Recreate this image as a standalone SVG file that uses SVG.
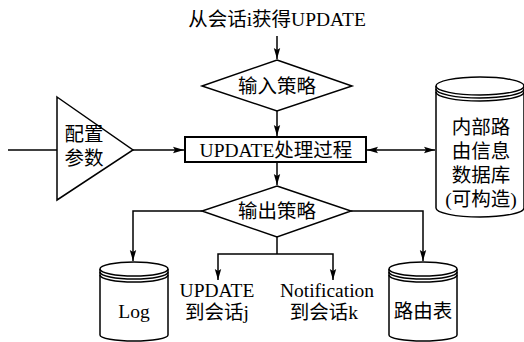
<svg xmlns="http://www.w3.org/2000/svg" width="524" height="342" viewBox="0 0 524 342">
<defs>
<marker id="ah" markerWidth="12" markerHeight="8" refX="11" refY="4" orient="auto-start-reverse" markerUnits="userSpaceOnUse">
<path d="M0,0.8 L11,4 L0,7.2 L2,4 Z" fill="#000"/>
</marker>
</defs>
<style>
.s{fill:#fff;stroke:#000;stroke-width:1.5}
.l{fill:none;stroke:#000;stroke-width:1.5}
.t{font-family:"Liberation Serif","Noto Sans CJK SC",serif;font-size:19.5px;fill:#000;text-anchor:middle}
</style>
<rect width="524" height="342" fill="#fff"/>
<g id="connectors">
<line class="l" x1="277" y1="36" x2="277" y2="59" marker-end="url(#ah)"/>
<line class="l" x1="277" y1="111" x2="277" y2="136" marker-end="url(#ah)"/>
<line class="l" x1="8" y1="150" x2="57" y2="150"/>
<line class="l" x1="133" y1="150" x2="184" y2="150" marker-end="url(#ah)"/>
<line class="l" x1="367" y1="150" x2="435" y2="150" marker-start="url(#ah)" marker-end="url(#ah)"/>
<line class="l" x1="277" y1="162" x2="277" y2="185" marker-end="url(#ah)"/>
<polyline class="l" points="202,211 133,211 133,261" marker-end="url(#ah)"/>
<polyline class="l" points="351,211 423,211 423,261" marker-end="url(#ah)"/>
<line class="l" x1="277" y1="237" x2="277" y2="254"/>
<polyline class="l" points="218,280 218,254 333,254 333,280" marker-start="url(#ah)" marker-end="url(#ah)"/>
</g>
<g id="source">
<text class="t" x="277" y="26">从会话i获得UPDATE</text>
</g>
<g id="input-policy">
<polygon class="s" points="277,60 352,86 277,111 202,86"/>
<text class="t" x="277" y="93">输入策略</text>
</g>
<g id="config">
<polygon class="s" points="57,97 133,150 57,200"/>
<text class="t" x="84" y="141">配置</text>
<text class="t" x="84" y="165">参数</text>
</g>
<g id="process">
<rect x="185" y="137" width="181" height="25" fill="#fff" stroke="#000" stroke-width="2"/>
<text class="t" x="276" y="157">UPDATE处理过程</text>
</g>
<g id="rib">
<path class="s" d="M436,86 L436,208 A44,9 0 0 0 524,208 L524,86"/>
<ellipse class="s" cx="480" cy="86" rx="44" ry="9"/>
<path class="l" d="M436,89 A44,9 0 0 0 524,89 M436,92 A44,9 0 0 0 524,92"/>
<text class="t" x="481" y="134">内部路</text>
<text class="t" x="481" y="158">由信息</text>
<text class="t" x="481" y="182">数据库</text>
<text class="t" x="481" y="206">(可构造)</text>
</g>
<g id="output-policy">
<polygon class="s" points="277,186 351,211 277,237 202,211"/>
<text class="t" x="277" y="218">输出策略</text>
</g>
<g id="log">
<path class="s" d="M100,269 L100,335 A34,6 0 0 0 168,335 L168,269"/>
<ellipse class="s" cx="134" cy="269" rx="34" ry="7"/>
<path class="l" d="M100,272 A34,7 0 0 0 168,272 M100,275 A34,7 0 0 0 168,275"/>
<text class="t" x="134" y="318">Log</text>
</g>
<g id="update-j">
<text class="t" x="217" y="297">UPDATE</text>
<text class="t" x="217" y="319">到会话j</text>
</g>
<g id="notification-k">
<text class="t" x="327" y="297">Notification</text>
<text class="t" x="324" y="319">到会话k</text>
</g>
<g id="routing-table">
<path class="s" d="M389,269 L389,335 A34,6 0 0 0 457,335 L457,269"/>
<ellipse class="s" cx="423" cy="269" rx="34" ry="7"/>
<path class="l" d="M389,272 A34,7 0 0 0 457,272 M389,275 A34,7 0 0 0 457,275"/>
<text class="t" x="423" y="318">路由表</text>
</g>
</svg>
